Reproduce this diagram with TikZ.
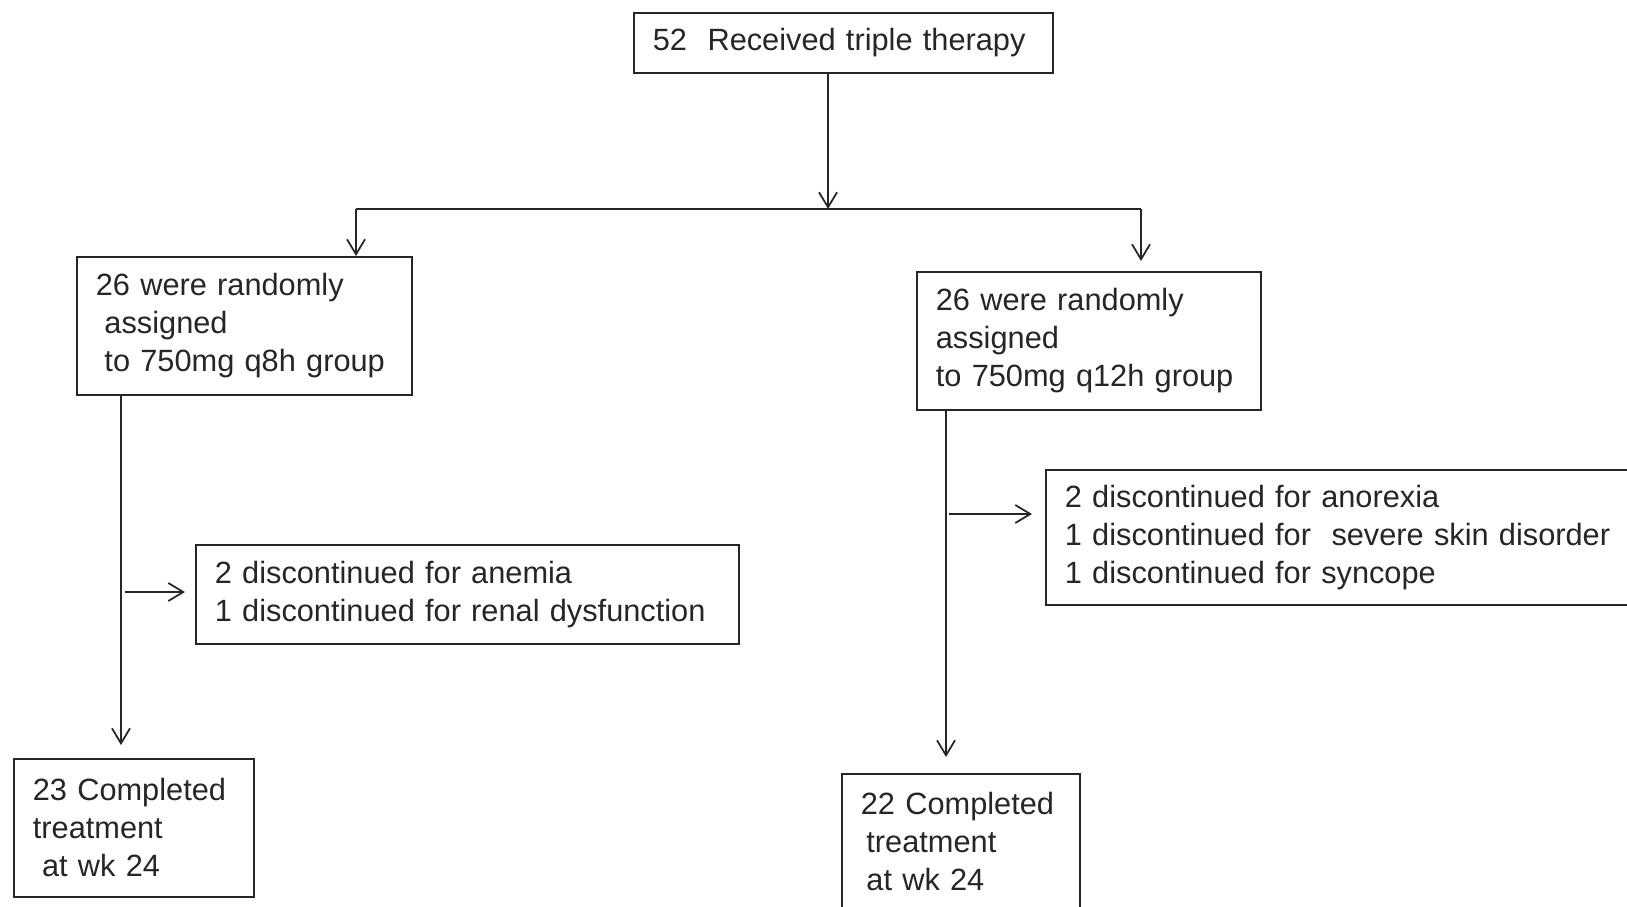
\documentclass[tikz,border=0pt]{standalone}
\usepackage{fontspec}
\setmainfont{Liberation Sans}
\usetikzlibrary{arrows.meta, positioning, calc}
\definecolor{flowink}{HTML}{262626}

\begin{document}
\begin{tikzpicture}[
  flowbox/.style={draw=flowink, line width=1pt, text=flowink, anchor=north west, align=left,
    inner xsep=0.38cm, inner ysep=0pt, font=\fontsize{17.5}{21.6}\selectfont},
  flowline/.style={draw=flowink, line width=1pt},
  flowarrow/.style={flowline, -{Straight Barb[length=0.3cm, width=0.36cm, line width=1pt]}}
]
  % page frame
  \useasboundingbox (0,0) rectangle (32.54,-18.14);
  \clip (0,0) rectangle (32.54,-18.14);
  \fill[white] (0,0) rectangle (32.54,-18.14);

  % boxes
  \node[flowbox, minimum width=8.38cm, minimum height=1.2cm, text width=7.62cm] (start) at (12.66,-0.24) {52\ \ Received triple therapy};
  \node[flowbox, minimum width=6.70cm, minimum height=2.76cm, text width=5.94cm] (q8h) at (1.52,-5.12) {26 were randomly\\\hspace*{.28em}assigned\\\hspace*{.28em}to 750mg q8h group};
  \node[flowbox, minimum width=6.88cm, minimum height=2.76cm, text width=6.12cm] (q12h) at (18.32,-5.42) {26 were randomly\\assigned\\to 750mg q12h group};
  \node[flowbox, minimum width=10.86cm, minimum height=1.98cm, text width=10.1cm] (stopL) at (3.90,-10.88) {2 discontinued for anemia\\1 discontinued for renal dysfunction};
  \node[flowbox, minimum width=12.6cm, minimum height=2.7cm, text width=11.84cm] (stopR) at (20.9,-9.38) {2 discontinued for anorexia\\1 discontinued for\ \ severe skin disorder\\1 discontinued for syncope};
  \node[flowbox, minimum width=4.8cm, minimum height=2.76cm, text width=4.04cm] (doneL) at (0.26,-15.16) {23 Completed\\treatment\\\hspace*{.3em}at wk 24};
  \node[flowbox, minimum width=4.76cm, minimum height=2.7cm, text width=4.0cm] (doneR) at (16.82,-15.46) {22 Completed\\\hspace*{.18em}treatment\\\hspace*{.18em}at wk 24};

  % split
  \coordinate (split) at (16.56,-4.18);
  \coordinate (splitL) at (7.12,-4.18);
  \coordinate (splitR) at (22.82,-4.18);
  \draw[flowarrow] (start.south -| split) -- (split);
  \draw[flowline] (splitL) -- (splitR);
  \draw[flowarrow] (splitL) -- (q8h.north -| splitL);
  \draw[flowarrow, shorten >=0.2cm] (splitR) -- (q12h.north -| splitR);

  % left arm
  \coordinate (trunkL) at (2.42,0);
  \coordinate (branchL) at (2.5,-11.84);
  \draw[flowarrow, shorten >=0.26cm] (q8h.south -| trunkL) -- (doneL.north -| trunkL);
  \draw[flowarrow, shorten >=0.2cm] (branchL) -- (branchL -| stopL.west);

  % right arm
  \coordinate (trunkR) at (18.92,0);
  \coordinate (branchR) at (18.98,-10.28);
  \draw[flowarrow, shorten >=0.32cm] (q12h.south -| trunkR) -- (doneR.north -| trunkR);
  \draw[flowarrow, shorten >=0.26cm] (branchR) -- (branchR -| stopR.west);
\end{tikzpicture}
\end{document}
